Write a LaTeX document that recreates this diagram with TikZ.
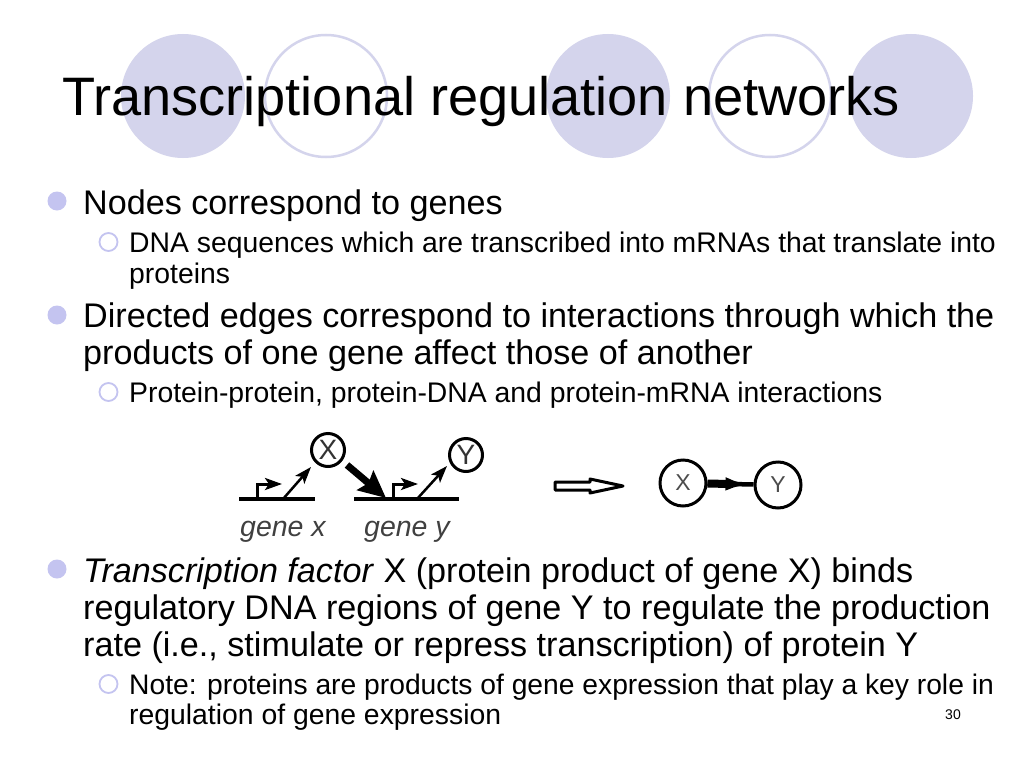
\documentclass[tikz,border=0pt]{standalone}
\usepackage{fontspec}
\setmainfont{Liberation Sans}
\usetikzlibrary{arrows.meta}
\definecolor{deco}{RGB}{212,212,236}
\definecolor{bul}{RGB}{196,196,240}
\tikzset{
 x=1pt,y=-1pt,
 fulldisc/.style={circle,fill=deco,draw=none,inner sep=0,minimum size=124pt},
 ringdisc/.style={circle,fill=white,draw=deco,line width=2.5pt,inner sep=0,minimum size=122pt},
 titletext/.style={anchor=base west,inner sep=0,font=\fontsize{54.15}{54}\selectfont},
 lone/.style={anchor=base west,inner sep=0,font=\fontsize{34.15}{34}\selectfont},
 ltwo/.style={anchor=base west,inner sep=0,font=\fontsize{28.35}{28}\selectfont},
 bigbul/.style={circle,fill=bul,draw=none,inner sep=0,minimum size=19pt},
 smallbul/.style={circle,fill=white,draw=bul,line width=1.8pt,inner sep=0,minimum size=18pt},
 gene/.style={circle,draw=black,line width=3pt,fill=white,inner sep=0,minimum size=33pt},
 gnode/.style={circle,draw=black,line width=3pt,fill=white,inner sep=0,minimum size=46pt},
 strand/.style={line width=3.6pt,black},
 tss/.style={line width=3pt,-{Stealth[length=17pt,width=12pt,inset=4pt]}},
 prod/.style={line width=2.5pt,-{Stealth[length=17pt,width=12pt,inset=4pt]}},
 genelabel/.style={anchor=base west,inner sep=0,text=black!75,font=\itshape\fontsize{28.5}{28}\selectfont},
 letter/.style={inner sep=0,text=black!70}
}
\begin{document}
\begin{tikzpicture}
\useasboundingbox (0,0) rectangle (1024,768);
\fill[white] (0,0) rectangle (1024,768);
\node[fulldisc] (d1) at (183,96) {};
\node[ringdisc] (d2) at (326,96) {};
\node[fulldisc] (d3) at (608,96) {};
\node[ringdisc] (d4) at (770,96) {};
\node[fulldisc] (d5) at (911,96) {};
\node[titletext] (title) at (62,115) {Transcriptional regulation networks};

\node[bigbul] (b1) at (57,201) {};
\node[lone] (t1) at (83,214) {Nodes correspond to genes};
\node[smallbul] (b2) at (108.5,242) {};
\node[ltwo] (t2) at (129,252) {DNA sequences which are transcribed into mRNAs that translate into};
\node[ltwo] (t2b) at (129,283) {proteins};
\node[bigbul] (b3) at (57,315) {};
\node[lone] (t3) at (83,327) {Directed edges correspond to interactions through which the};
\node[lone] (t3b) at (83,364) {products of one gene affect those of another};
\node[smallbul] (b4) at (108.5,392) {};
\node[ltwo] (t4) at (129,402) {Protein-protein, protein-DNA and protein-mRNA interactions};
\node[bigbul] (b5) at (57,569) {};
\node[lone] (t5) at (83,582) {\textit{Transcription factor} X (protein product of gene X) binds};
\node[lone] (t5b) at (83,619) {regulatory DNA regions of gene Y to regulate the production};
\node[lone] (t5c) at (83,656) {rate (i.e., stimulate or repress transcription) of protein Y};
\node[smallbul] (b6) at (108.5,684) {};
\node[ltwo,font=\fontsize{28.25}{28}\selectfont] (t6) at (129,694) {Note: proteins are products of gene expression that play a key role in};
\node[ltwo] (t6b) at (129,724) {regulation of gene expression};
\node[anchor=base,inner sep=0,font=\fontsize{14}{14}\selectfont] (pg) at (953,719) {30};

% left figure
\node[gene,letter,text=black!80,font=\fontsize{28}{28}\selectfont] (X) at (328,450) {X};
\node[gene,letter,text=black!80,font=\fontsize{28}{28}\selectfont] (Y) at (466,455) {Y};
\coordinate (xa) at (239,499); \coordinate (xb) at (315,499);
\coordinate (ya) at (354,499); \coordinate (yb) at (459,499);
\draw[strand] (xa) -- (xb);
\draw[strand] (ya) -- (yb);
\coordinate (xt) at (257,499); \coordinate (xc) at (257,484); \coordinate (xe) at (282,484);
\draw[tss] (xt) -- (xc) -- (xe);
\coordinate (yt) at (393,499); \coordinate (yc) at (393,484); \coordinate (ye) at (418,484);
\draw[tss] (yt) -- (yc) -- (ye);
\coordinate (xp) at (283,499); \coordinate (xq) at (311,467);
\draw[prod] (xp) -- (xq);
\coordinate (yp) at (417,499); \coordinate (yq) at (447,466);
\draw[prod] (yp) -- (yq);
\coordinate (bs) at (347,465); \coordinate (be) at (386,498);
\draw[line width=7pt,-{Stealth[length=27pt,width=25pt,inset=4pt]}] (bs) -- (be);
\node[genelabel] (gx) at (240,536) {gene x};
\node[genelabel] (gy) at (364,536) {gene y};

% hollow arrow
\draw[line width=3pt,line join=round,fill=white]
  (555,482) -- (590,482) -- (590,479) -- (623,486) -- (590,493) -- (590,490) -- (555,490) -- cycle;

% right figure
\node[gnode,letter,font=\fontsize{23}{23}\selectfont] (NX) at (683,483) {X};
\node[gnode,letter,font=\fontsize{23}{23}\selectfont] (NY) at (778,485) {Y};
\draw[line width=4.5pt] (NX) -- (NY);
\draw[line width=8pt,-{Latex[length=28pt,width=13pt]}] (NX) -- (NY);
\end{tikzpicture}
\end{document}
